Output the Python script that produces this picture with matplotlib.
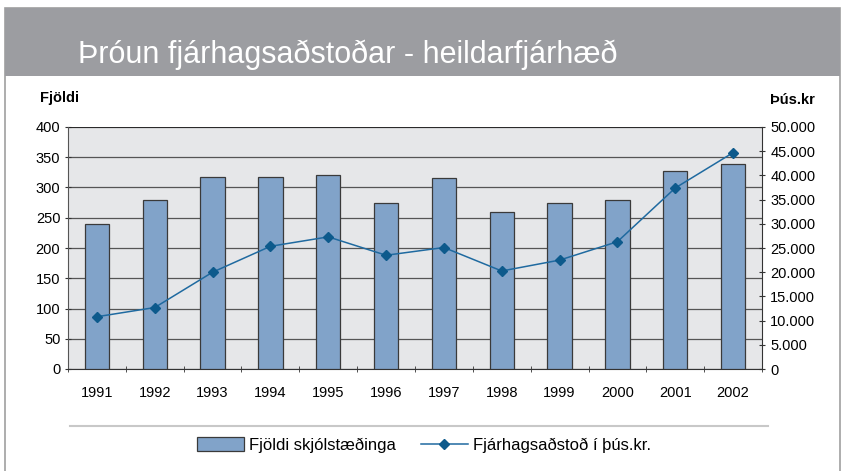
import matplotlib.pyplot as plt
import matplotlib.ticker as mticker
import numpy as np

ar = ['1991', '1992', '1993', '1994', '1995', '1996', '1997', '1998', '1999', '2000', '2001', '2002']
fjoldi = [240, 280, 318, 318, 321, 275, 315, 260, 275, 280, 328, 339]
fjarhaed = [10800, 12700, 20000, 25350, 27300, 23500, 25100, 20250, 22500, 26300, 37400, 44700]

plt.rcParams['font.family'] = ['Liberation Sans', 'DejaVu Sans']

fig = plt.figure(figsize=(8.49, 4.71), dpi=100)

# ramminn og titilborðinn
fig.patches.append(plt.Rectangle((5/849, -0.1), 835/849, 1.1 - 8/471, transform=fig.transFigure,
                                 facecolor='white', edgecolor='#a0a0a0', lw=1.2, zorder=-2))
fig.patches.append(plt.Rectangle((5/849, 1 - 76/471), 835/849, 68/471, transform=fig.transFigure,
                                 facecolor='#9c9da1', edgecolor='none', zorder=-1))
fig.text(78/849, 1 - 55/471, 'Þróun fjárhagsaðstoðar - heildarfjárhæð', color='white',
         fontsize=22, va='center', ha='left')

ax = fig.add_axes([68/849, 1 - 369/471, 694/849, 242/471])
ax.set_facecolor('#e6e7e9')
x = np.arange(len(ar))
ax.bar(x, fjoldi, width=0.42, color='#81a3c9', edgecolor='#3a3a3a', lw=0.9,
       label='Fjöldi skjólstæðinga', zorder=3)
ax.set_xlim(-0.5, len(ar) - 0.5)
ax.set_ylim(0, 400)
ax.set_yticks(range(0, 401, 50))
ax.grid(axis='y', color='#555555', lw=0.9, zorder=0)
ax.set_axisbelow(True)
ax.set_xticks(x)
ax.set_xticklabels(ar)
ax.set_xticks(np.arange(-0.5, len(ar)), minor=True)
ax.tick_params(axis='x', which='major', length=0, pad=12, labelsize=10.5)
ax.tick_params(axis='x', which='minor', length=5, direction='inout', color='#333333')
ax.tick_params(axis='y', length=4, direction='inout', labelsize=10.5, color='#333333')
for s in ['top', 'right']:
    ax.spines[s].set_visible(False)
ax.spines['left'].set_color('#555555')
ax.spines['bottom'].set_color('#333333')

ax2 = ax.twinx()
ax2.plot(x, fjarhaed, color='#1f6aa0', lw=1.1, marker='D', ms=5.5, mfc='#0d5a8c', mec='#0d5a8c',
         label='Fjárhagsaðstoð í þús.kr.', zorder=4)
ax2.set_ylim(0, 50000)
ax2.set_yticks(range(0, 50001, 5000))
ax2.yaxis.set_major_formatter(mticker.FuncFormatter(lambda v, p: f'{int(v):,}'.replace(',', '.')))
ax2.tick_params(axis='y', length=5, direction='inout', labelsize=10.5, color='#333333')
for s in ['top', 'left', 'bottom']:
    ax2.spines[s].set_visible(False)
ax2.spines['right'].set_color('#333333')
# efsta línan
ax.axhline(400, color='#222222', lw=1.2, zorder=1)

fig.text(40/849, 1 - 98/471, 'Fjöldi', fontsize=10.5, fontweight='bold', va='center', ha='left')
fig.text(770/849, 1 - 100/471, 'Þús.kr', fontsize=10.5, fontweight='bold', va='center', ha='left')

fig.add_artist(plt.Line2D([70/849, 768/849], [1 - 426/471, 1 - 426/471], color='#c8c8c8', lw=1.5))

h1, l1 = ax.get_legend_handles_labels()
h2, l2 = ax2.get_legend_handles_labels()
fig.legend(h1 + h2, l1 + l2, loc='center', bbox_to_anchor=(424/849, 1 - 445/471), ncol=2,
           frameon=False, fontsize=12, handlelength=2.8, handleheight=0.9, columnspacing=1.5,
           handletextpad=0.3)

fig.savefig('out.png', dpi=100)
